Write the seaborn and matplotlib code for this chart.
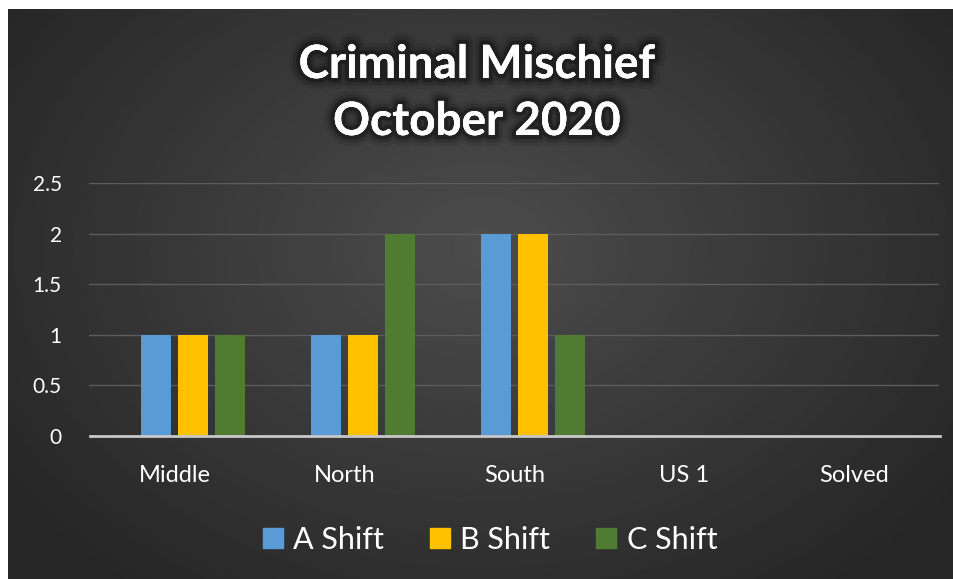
import numpy as np
import pandas as pd
import matplotlib
matplotlib.use("Agg")
import matplotlib.pyplot as plt
import matplotlib.patheffects as pe
from matplotlib.patches import Rectangle
import seaborn as sns

# data
regions = ["Middle", "North", "South", "US 1", "Solved"]
a_shift = [1, 1, 2, 0, 0]
b_shift = [1, 1, 2, 0, 0]
c_shift = [1, 2, 1, 0, 0]
shifts = ["A Shift", "B Shift", "C Shift"]
colors = ["#5b9bd5", "#ffc000", "#4f7b32"]
yticks = [0, 0.5, 1, 1.5, 2, 2.5]

df = pd.DataFrame({"Region": regions * 3,
                   "Shift": np.repeat(shifts, len(regions)),
                   "Count": a_shift + b_shift + c_shift})

sns.set_theme(style="dark")
plt.rcParams["font.family"] = ["Lato", "DejaVu Sans"]

W, H = 954, 579
fig = plt.figure(figsize=(W / 100, H / 100), dpi=100)
fig.patch.set_facecolor("white")

# dark panel with a soft radial gradient
bg = fig.add_axes([8 / W, 0, 1 - 8 / W, 1 - 9 / H])
yy, xx = np.mgrid[0:1:300j, 0:1:500j]
r = np.sqrt(((xx - 0.5) / 0.7) ** 2 + ((yy - 0.42) / 0.85) ** 2)
shade = np.clip(0.30 - 0.17 * r, 0.15, 0.30)
bg.imshow(shade, cmap="gray", vmin=0, vmax=1, aspect="auto", extent=[0, 1, 0, 1])
bg.set_axis_off()

ax = fig.add_axes([89.5 / W, 1 - 436 / H, 850 / W, 253 / H])
ax.patch.set_alpha(0)

# an empty leading hue slot keeps the bars where the original has them
sns.barplot(data=df, x="Region", y="Count", hue="Shift",
            hue_order=[" "] + shifts, palette=["#000000"] + colors,
            order=regions, width=0.87, gap=0.19, saturation=1,
            legend=False, ax=ax, linewidth=0, err_kws={"linewidth": 0})

ax.set_ylim(0, 2.5)
ax.set_xlim(-0.5, len(regions) - 0.5)
ax.set_yticks(yticks)
ax.set_yticklabels(["0", "0.5", "1", "1.5", "2", "2.5"])
ax.yaxis.grid(True, color="#5c5c5c", linewidth=1)
ax.xaxis.grid(False)
ax.set_axisbelow(True)
for s in ["top", "right", "left"]:
    ax.spines[s].set_visible(False)
ax.spines["bottom"].set_color("#c8c8c8")
ax.spines["bottom"].set_linewidth(2)
ax.tick_params(axis="y", colors="white", labelsize=15, length=0, pad=20)
ax.tick_params(axis="x", colors="white", labelsize=17, length=0, pad=21)
ax.set_xlabel("")
ax.set_ylabel("")

glow = [pe.withStroke(linewidth=16, foreground="black", alpha=0.08),
        pe.withStroke(linewidth=11, foreground="black", alpha=0.15),
        pe.withStroke(linewidth=6, foreground="black", alpha=0.3),
        pe.Normal()]
fig.text(0.5, 1 - 65 / H, "Criminal Mischief", ha="center", va="center",
         fontsize=33, fontweight="bold", color="white", path_effects=glow)
fig.text(0.5, 1 - 122 / H, "October 2020", ha="center", va="center",
         fontsize=33, fontweight="bold", color="white", path_effects=glow)

handles = [Rectangle((0, 0), 1, 1, color=c) for c in colors]
leg = fig.legend(handles, shifts, loc="center", bbox_to_anchor=(490 / W, 1 - 540 / H),
                 ncol=3, frameon=False, fontsize=22, handlelength=0.65,
                 handleheight=0.65, handletextpad=0.35, columnspacing=1.5)
for t in leg.get_texts():
    t.set_color("white")

fig.savefig("out.png", dpi=100)
